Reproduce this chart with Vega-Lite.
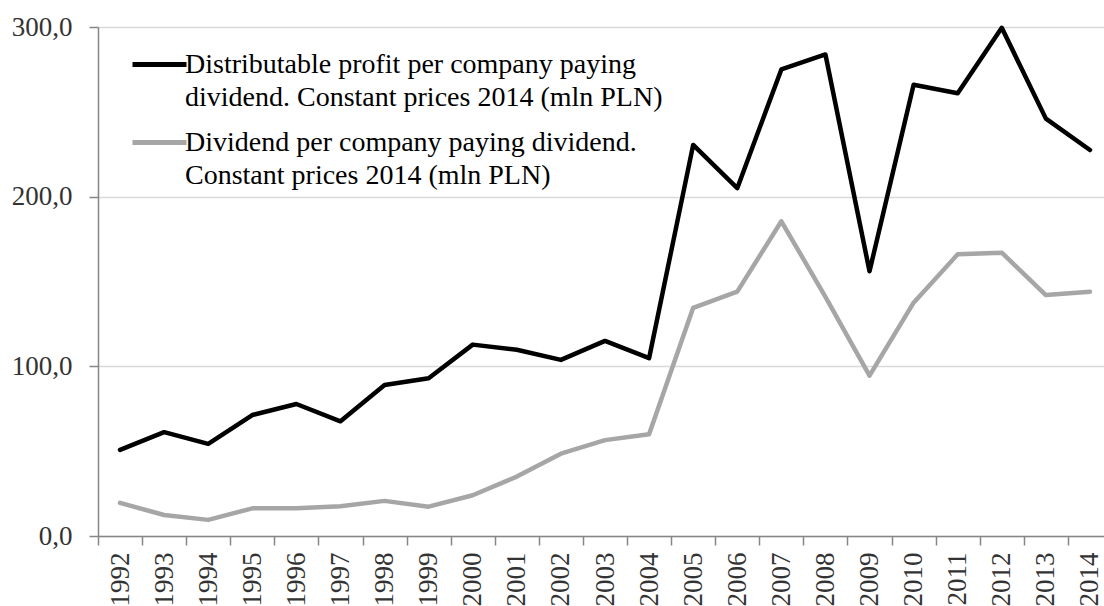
{
  "$schema": "https://vega.github.io/schema/vega-lite/v6.json",
  "width": 1006,
  "height": 509,
  "autosize": {"type": "none"},
  "padding": {"left": 98, "top": 27, "right": 0, "bottom": 70},
  "background": "white",
  "config": {
    "view": {"stroke": null},
    "font": "Liberation Serif"
  },
  "data": {
    "values": [
      {"year": "1992", "series": "profit", "value": 50.8},
      {"year": "1993", "series": "profit", "value": 61.2},
      {"year": "1994", "series": "profit", "value": 54.3},
      {"year": "1995", "series": "profit", "value": 71.3},
      {"year": "1996", "series": "profit", "value": 77.8},
      {"year": "1997", "series": "profit", "value": 67.6},
      {"year": "1998", "series": "profit", "value": 89.0},
      {"year": "1999", "series": "profit", "value": 93.0},
      {"year": "2000", "series": "profit", "value": 112.8},
      {"year": "2001", "series": "profit", "value": 109.8},
      {"year": "2002", "series": "profit", "value": 103.8},
      {"year": "2003", "series": "profit", "value": 115.0},
      {"year": "2004", "series": "profit", "value": 104.8},
      {"year": "2005", "series": "profit", "value": 230.5},
      {"year": "2006", "series": "profit", "value": 205.0},
      {"year": "2007", "series": "profit", "value": 275.0},
      {"year": "2008", "series": "profit", "value": 283.8},
      {"year": "2009", "series": "profit", "value": 156.0},
      {"year": "2010", "series": "profit", "value": 266.0},
      {"year": "2011", "series": "profit", "value": 261.0},
      {"year": "2012", "series": "profit", "value": 299.5},
      {"year": "2013", "series": "profit", "value": 246.0},
      {"year": "2014", "series": "profit", "value": 227.5},
      {"year": "1992", "series": "dividend", "value": 19.5},
      {"year": "1993", "series": "dividend", "value": 12.4},
      {"year": "1994", "series": "dividend", "value": 9.5},
      {"year": "1995", "series": "dividend", "value": 16.3},
      {"year": "1996", "series": "dividend", "value": 16.3},
      {"year": "1997", "series": "dividend", "value": 17.5},
      {"year": "1998", "series": "dividend", "value": 20.7},
      {"year": "1999", "series": "dividend", "value": 17.3},
      {"year": "2000", "series": "dividend", "value": 24.0},
      {"year": "2001", "series": "dividend", "value": 35.0},
      {"year": "2002", "series": "dividend", "value": 48.5},
      {"year": "2003", "series": "dividend", "value": 56.5},
      {"year": "2004", "series": "dividend", "value": 60.0},
      {"year": "2005", "series": "dividend", "value": 134.5},
      {"year": "2006", "series": "dividend", "value": 144.0},
      {"year": "2007", "series": "dividend", "value": 185.5},
      {"year": "2008", "series": "dividend", "value": 141.0},
      {"year": "2009", "series": "dividend", "value": 94.5},
      {"year": "2010", "series": "dividend", "value": 137.5},
      {"year": "2011", "series": "dividend", "value": 166.0},
      {"year": "2012", "series": "dividend", "value": 167.0},
      {"year": "2013", "series": "dividend", "value": 142.0},
      {"year": "2014", "series": "dividend", "value": 144.0}
    ]
  },
  "mark": {"type": "line", "strokeWidth": 4.5, "strokeJoin": "round", "strokeCap": "round"},
  "encoding": {
    "x": {
      "field": "year",
      "type": "ordinal",
      "sort": null,
      "scale": {"type": "band", "paddingInner": 0, "paddingOuter": 0, "range": [0, 1014]},
      "axis": {
        "title": null,
        "tickBand": "extent",
        "grid": false,
        "domainColor": "#868686",
        "domainWidth": 1.5,
        "tickColor": "#868686",
        "tickWidth": 1.5,
        "tickSize": 9,
        "labelAngle": 270,
        "labelAlign": "right",
        "labelBaseline": "middle",
        "labelPadding": 7,
        "labelFontSize": 27,
        "labelColor": "#333333",
        "labelFont": "Liberation Serif"
      }
    },
    "y": {
      "field": "value",
      "type": "quantitative",
      "scale": {"domain": [0, 300], "nice": false},
      "axis": {
        "title": null,
        "values": [0, 100, 200, 300],
        "grid": true,
        "gridColor": "#d9d9d9",
        "gridWidth": 1.5,
        "domainColor": "#868686",
        "domainWidth": 1.5,
        "tickColor": "#868686",
        "tickWidth": 1.5,
        "tickSize": 9,
        "labelPadding": 17,
        "labelFontSize": 27,
        "labelColor": "#333333",
        "labelFont": "Liberation Serif",
        "labelExpr": "replace(format(datum.value, '.1f'), '.', ',')"
      }
    },
    "color": {
      "field": "series",
      "type": "nominal",
      "scale": {"domain": ["profit", "dividend"], "range": ["#000000", "#a6a6a6"]},
      "legend": {
        "title": null,
        "orient": "none",
        "legendX": 32,
        "legendY": 8,
        "symbolType": "stroke",
        "symbolSize": 2916,
        "symbolStrokeWidth": 5,
        "labelFont": "Liberation Serif",
        "labelFontSize": 28,
        "labelColor": "#000000",
        "labelOffset": -4,
        "labelLimit": 0,
        "rowPadding": 1,
        "labelExpr": "datum.label == 'profit' ? ['Distributable profit per company paying', 'dividend. Constant prices 2014 (mln PLN)'] : ['Dividend per company paying dividend.', 'Constant prices 2014 (mln PLN)']",
        "encode": {"labels": {"update": {"lineHeight": {"value": 33}}}}
      }
    }
  }
}
